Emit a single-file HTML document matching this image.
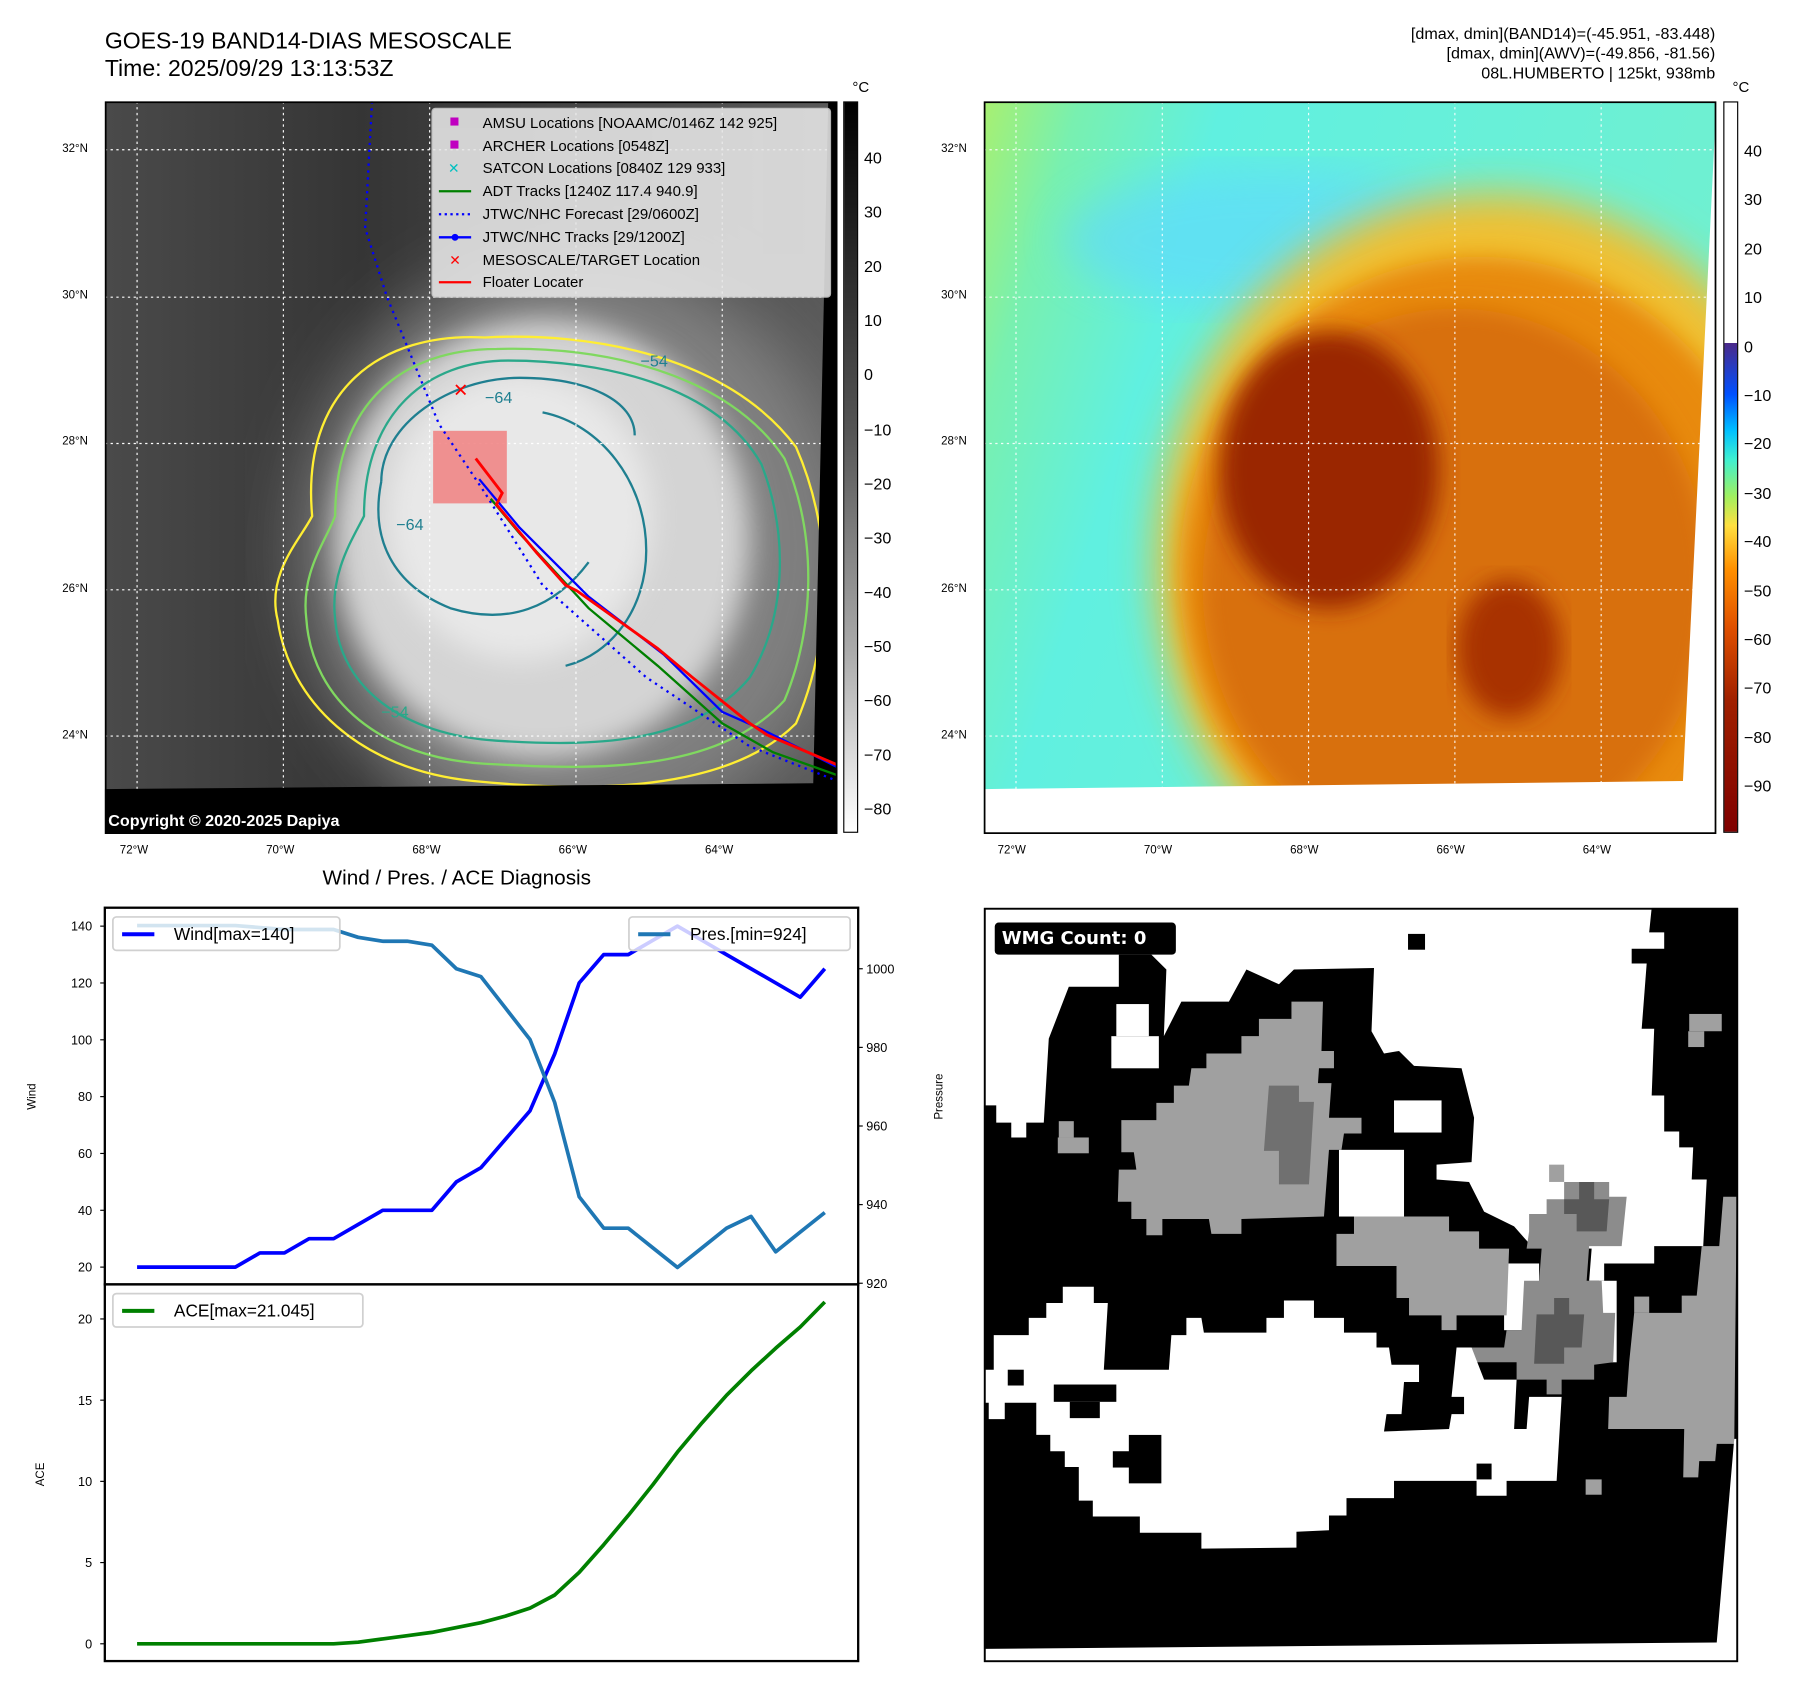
<!DOCTYPE html>
<html><head><meta charset="utf-8"><style>
html,body{margin:0;padding:0;background:#fff;overflow:hidden}
body{width:1797px;height:1690px}
#wrap{position:absolute;left:0;top:0;width:1560px;height:1467px;transform:scale(1.15192);transform-origin:0 0;font-family:"Liberation Sans","DejaVu Sans",sans-serif;color:#000}
.abs{position:absolute}
.t{position:absolute;white-space:nowrap}
</style></head><body>
<div id="wrap">
<div class="t" style="left:91px;top:24px;font-size:20px;line-height:24px">GOES-19 BAND14-DIAS MESOSCALE<br>Time: 2025/09/29 13:13:53Z</div>
<div class="t" style="right:71px;top:21px;font-size:14px;line-height:17px;text-align:right">[dmax, dmin](BAND14)=(-45.951, -83.448)<br>[dmax, dmin](AWV)=(-49.856, -81.56)<br>08L.HUMBERTO | 125kt, 938mb</div>

<!-- MAP 1 -->
<svg class="abs" style="left:91px;top:88px" width="636" height="636" viewBox="0 0 636 636">
<defs>
<filter id="b1"><feGaussianBlur stdDeviation="30"/></filter>
<filter id="b2"><feGaussianBlur stdDeviation="12"/></filter>
<linearGradient id="bgL" x1="0" x2="1"><stop offset="0" stop-color="#4a4a4a"/><stop offset="0.35" stop-color="#353535"/><stop offset="1" stop-color="#5a5a5a"/></linearGradient>
</defs>
<rect width="636" height="636" fill="url(#bgL)"/>
<ellipse cx="410" cy="390" rx="240" ry="255" fill="#808080" filter="url(#b1)"/>
<ellipse cx="380" cy="380" rx="180" ry="190" fill="#d4d4d4" filter="url(#b2)"/>
<ellipse cx="360" cy="360" rx="115" ry="125" fill="#e8e8e8" filter="url(#b2)"/>
<g fill="none" stroke-width="2">
<path d="M180,360 C170,250 240,200 330,205 C420,200 540,220 600,300 C635,380 630,470 600,540 C540,600 420,600 320,590 C220,580 160,520 150,450 C140,410 170,380 180,360Z" stroke="#ffee33"/>
<path d="M200,360 C200,260 260,215 340,215 C430,212 540,235 590,310 C620,380 615,460 590,520 C530,585 420,580 330,575 C240,570 180,520 175,450 C170,410 190,385 200,360Z" stroke="#80d860"/>
<path d="M225,360 C225,270 280,225 350,225 C430,225 530,245 570,315 C595,380 590,450 560,500 C510,560 420,560 340,555 C260,550 205,510 200,450 C195,410 215,380 225,360Z" stroke="#2aa88a"/>
<path d="M240,330 C240,280 300,240 360,240 C420,240 460,260 460,290 M380,270 C430,280 470,330 470,390 C470,440 440,480 400,490 M240,330 C230,380 250,420 300,440 C350,455 390,440 420,400" stroke="#1f7f90"/>
</g>
<text x="465" y="230" fill="#1f7f90" font-size="14">−54</text>
<text x="330" y="262" fill="#1f7f90" font-size="14">−64</text>
<text x="253" y="372" fill="#1f7f90" font-size="14">−64</text>
<text x="240" y="535" fill="#2aa88a" font-size="14">−54</text>
<g stroke="#fff" stroke-width="1" stroke-dasharray="2,3">
<line x1="28" y1="0" x2="28" y2="636"/><line x1="155" y1="0" x2="155" y2="636"/><line x1="282" y1="0" x2="282" y2="636"/><line x1="409" y1="0" x2="409" y2="636"/><line x1="536" y1="0" x2="536" y2="636"/>
<line x1="0" y1="42" x2="636" y2="42"/><line x1="0" y1="170" x2="636" y2="170"/><line x1="0" y1="297" x2="636" y2="297"/><line x1="0" y1="424" x2="636" y2="424"/><line x1="0" y1="551" x2="636" y2="551"/>
</g>
<polygon points="0,597 615,592 628,0 636,0 636,636 0,636" fill="#000"/>
<rect x="285" y="286" width="64" height="63" fill="#f08080" opacity="0.85"/>
<polyline points="232,0 226,110 245,170 290,280 330,340 380,420 470,500 560,560 636,590" fill="none" stroke="#0000ff" stroke-width="2" stroke-dasharray="2,4"/>
<polyline points="335,345 360,375 420,440 480,490 536,540 580,565 636,585" fill="none" stroke="#008000" stroke-width="2"/>
<polyline points="325,328 360,370 420,430 485,480 536,530 570,545 636,578" fill="none" stroke="#0000ff" stroke-width="2"/>
<polyline points="322,310 345,340 340,350 375,392 400,420 410,425 480,475 510,500 560,540 575,550 636,576" fill="none" stroke="#ff0000" stroke-width="2.5"/>
<text x="309" y="256" fill="#f00" font-size="16" font-weight="bold" text-anchor="middle">✕</text>
<g>
<rect x="284" y="6" width="346" height="164" rx="3" fill="#e8e8e8" opacity="0.88" stroke="#ccc"/>
<g font-size="13">
<rect x="300" y="14" width="7" height="7" fill="#c000c0"/><text x="328" y="23">AMSU Locations [NOAAMC/0146Z 142 925]</text>
<rect x="300" y="34" width="7" height="7" fill="#c000c0"/><text x="328" y="43">ARCHER Locations [0548Z]</text>
<text x="303" y="62" fill="#00c0c0" font-size="12" text-anchor="middle">✕</text><text x="328" y="62">SATCON Locations [0840Z 129 933]</text>
<line x1="290" y1="78" x2="318" y2="78" stroke="#008000" stroke-width="2"/><text x="328" y="82">ADT Tracks [1240Z 117.4 940.9]</text>
<line x1="290" y1="98" x2="318" y2="98" stroke="#00f" stroke-width="2" stroke-dasharray="2,3"/><text x="328" y="102">JTWC/NHC Forecast [29/0600Z]</text>
<line x1="290" y1="118" x2="318" y2="118" stroke="#00f" stroke-width="2"/><circle cx="304" cy="118" r="3" fill="#00f"/><text x="328" y="122">JTWC/NHC Tracks [29/1200Z]</text>
<text x="304" y="142" fill="#f00" font-size="12" font-weight="bold" text-anchor="middle">✕</text><text x="328" y="142">MESOSCALE/TARGET Location</text>
<line x1="290" y1="157" x2="318" y2="157" stroke="#f00" stroke-width="2"/><text x="328" y="161">Floater Locater</text>
</g></g>
<text x="3" y="629" fill="#fff" font-size="14" font-weight="bold">Copyright © 2020-2025 Dapiya</text>
<rect x="0.5" y="0.5" width="635" height="635" fill="none" stroke="#000" stroke-width="2"/>
</svg>
<div class="abs" style="left:732px;top:88px;width:13px;height:635px;background:linear-gradient(#000,#555 45%,#aaa 75%,#fff);border:1px solid #000;box-sizing:border-box"></div>
<div class="t" style="left:740px;top:68px;font-size:13px">°C</div>

<!-- MAP 2 -->
<svg class="abs" style="left:854px;top:88px" width="636" height="636" viewBox="0 0 636 636">
<defs>
<filter id="b3"><feGaussianBlur stdDeviation="18"/></filter>
<filter id="b4"><feGaussianBlur stdDeviation="10"/></filter>
<linearGradient id="bgR" x1="0" x2="1" y1="0" y2="0.3"><stop offset="0" stop-color="#a8f070"/><stop offset="0.12" stop-color="#78f0b0"/><stop offset="0.3" stop-color="#60f0e0"/><stop offset="1" stop-color="#70f0d0"/></linearGradient>
</defs>
<rect width="636" height="636" fill="url(#bgR)"/>
<ellipse cx="250" cy="120" rx="180" ry="60" fill="#60d8ff" opacity="0.6" filter="url(#b3)"/>
<ellipse cx="440" cy="400" rx="290" ry="320" fill="#f0c030" filter="url(#b3)"/>
<ellipse cx="430" cy="410" rx="260" ry="275" fill="#e88a10" filter="url(#b4)"/>
<ellipse cx="410" cy="420" rx="220" ry="240" fill="#d87010" filter="url(#b4)"/>
<ellipse cx="300" cy="320" rx="95" ry="120" fill="#9a2800" filter="url(#b4)"/>
<ellipse cx="456" cy="475" rx="45" ry="60" fill="#a83200" filter="url(#b4)"/>
<g stroke="#fff" stroke-width="1" stroke-dasharray="2,3" opacity="0.9">
<line x1="28" y1="0" x2="28" y2="636"/><line x1="155" y1="0" x2="155" y2="636"/><line x1="282" y1="0" x2="282" y2="636"/><line x1="409" y1="0" x2="409" y2="636"/><line x1="536" y1="0" x2="536" y2="636"/>
<line x1="0" y1="42" x2="636" y2="42"/><line x1="0" y1="170" x2="636" y2="170"/><line x1="0" y1="297" x2="636" y2="297"/><line x1="0" y1="424" x2="636" y2="424"/><line x1="0" y1="551" x2="636" y2="551"/>
</g>
<polygon points="0,597 607,590 636,0 636,636 0,636" fill="#fff"/>
<rect x="0.5" y="0.5" width="635" height="635" fill="none" stroke="#000" stroke-width="2"/>
</svg>
<div class="abs" style="left:1496px;top:88px;width:13px;height:635px;background:linear-gradient(#fff 0%,#fff 33%,#4b2a8a 33%,#0050ff 40%,#00c0ff 45%,#40f0d0 49%,#a0f060 54%,#ffe040 58%,#ff9000 64%,#e05000 72%,#a02000 82%,#800000 100%);border:1px solid #000;box-sizing:border-box"></div>
<div class="t" style="left:1504px;top:68px;font-size:13px">°C</div>

<!-- CHARTS -->
<div class="t" style="left:280px;top:752px;font-size:18px">Wind / Pres. / ACE Diagnosis</div>
<svg id="chart" class="abs" style="left:0;top:0" width="860" height="1467"></svg>

<!-- WMG -->
<svg class="abs" style="left:854px;top:788px" width="655" height="655" viewBox="0 5 1508 1527" preserveAspectRatio="none">
<rect x="0" y="5" width="1508" height="1527" fill="#000"/>
<polygon fill="#fff" points="0,5 1335,5 1330,55 1360,55 1360,88 1295,88 1295,118 1325,118 1315,250 1340,250 1335,385 1360,385 1360,458 1390,458 1390,490 1418,490 1415,555 1445,555 1438,690 1340,690 1340,725 1240,725 1240,760 1210,760 1215,695 1095,690 1060,650 1000,620 970,560 905,555 905,525 975,520 980,430 955,330 860,325 830,295 800,300 775,255 780,127 620,130 590,160 525,130 490,195 395,195 360,265 365,130 335,100 270,100 270,165 170,165 130,270 120,440 85,440 85,470 55,470 55,440 25,440 25,405 0,405"/>
<rect x="255" y="265" width="95" height="65" fill="#fff"/><rect x="265" y="200" width="65" height="65" fill="#fff"/>
<rect x="710" y="495" width="130" height="135" fill="#fff"/><rect x="820" y="395" width="95" height="65" fill="#fff"/>
<rect x="1040" y="725" width="70" height="135" fill="#fff"/><rect x="1230" y="760" width="35" height="165" fill="#fff"/>
<rect x="848" y="58" width="34" height="32" fill="#000"/>
<polygon fill="#a0a0a0" points="275,435 345,435 345,400 380,400 380,365 410,365 415,330 445,330 445,300 515,300 515,265 550,265 550,230 615,230 615,195 678,195 675,295 700,295 700,330 670,330 668,360 695,360 690,430 755,430 755,462 720,462 715,495 690,495 680,630 515,635 515,665 455,665 450,635 357,635 357,668 325,668 325,635 295,635 295,600 268,600 270,535 305,535 300,500 275,500"/>
<polygon fill="#707070" points="570,365 630,365 630,398 660,398 650,565 590,565 590,497 560,497"/>
<polygon fill="#a0a0a0" points="705,665 740,665 740,630 930,630 930,660 990,660 990,695 1050,695 1045,830 945,830 945,860 915,860 915,830 850,830 850,795 825,795 825,730 705,730"/>
<polygon fill="#8c8c8c" points="1090,625 1125,625 1125,595 1160,595 1160,560 1250,560 1250,590 1285,590 1275,690 1210,690 1205,760 1235,760 1238,825 1262,825 1258,925 1220,930 1220,960 1155,960 1155,990 1125,990 1125,960 1065,960 1065,925 970,925 975,895 1040,895 1045,860 1075,860 1080,760 1110,760 1115,695 1085,695 1090,660"/>
<polygon fill="#585858" points="1160,595 1190,595 1190,560 1220,560 1220,595 1250,595 1245,660 1185,660 1185,625 1160,625"/>
<polygon fill="#585858" points="1140,795 1170,795 1170,828 1200,828 1195,895 1160,895 1160,928 1100,928 1105,828 1140,828"/>
<polygon fill="#a0a0a0" points="1478,590 1505,590 1500,1090 1465,1090 1462,1125 1430,1125 1428,1158 1398,1158 1400,1060 1248,1060 1250,995 1285,995 1290,925 1300,825 1395,825 1395,790 1425,790 1435,690 1470,690"/>
<rect x="150" y="437" width="30" height="33" fill="#a0a0a0"/><rect x="148" y="470" width="62" height="32" fill="#a0a0a0"/>
<rect x="1410" y="220" width="65" height="35" fill="#a0a0a0"/><rect x="1408" y="255" width="32" height="32" fill="#a0a0a0"/>
<rect x="1130" y="525" width="30" height="35" fill="#a0a0a0"/><rect x="893" y="1098" width="32" height="32" fill="#a0a0a0"/>
<rect x="1203" y="1162" width="32" height="31" fill="#a0a0a0"/><rect x="1300" y="792" width="30" height="33" fill="#a0a0a0"/>
<polygon fill="#fff" points="0,940 20,940 20,870 90,870 90,835 125,835 125,805 158,805 158,772 220,772 220,805 248,805 240,940 370,940 375,870 405,870 405,835 435,835 440,865 565,865 565,835 600,835 600,800 660,800 660,835 720,835 720,865 785,865 785,895 810,895 815,930 870,930 870,965 840,965 835,1030 805,1030 800,1065 930,1060 935,1030 960,1030 960,995 935,995 945,895 975,895 1000,960 1065,960 1060,1060 1085,1060 1090,995 1155,995 1145,1165 1045,1165 1045,1195 985,1195 985,1165 820,1165 820,1200 725,1200 725,1235 690,1235 690,1265 625,1268 625,1300 435,1302 435,1270 312,1270 312,1237 218,1237 218,1205 190,1205 190,1137 162,1137 162,1105 133,1105 133,1072 105,1072 105,1007 42,1007 42,1040 10,1040 10,1007 0,1007"/>
<rect x="48" y="940" width="32" height="32" fill="#000"/><rect x="140" y="970" width="125" height="35" fill="#000"/><rect x="172" y="1005" width="60" height="33" fill="#000"/>
<rect x="258" y="1105" width="92" height="33" fill="#000"/><rect x="290" y="1072" width="65" height="98" fill="#000"/><rect x="985" y="1130" width="30" height="32" fill="#000"/>
<polygon fill="#fff" points="1500,1080 1508,1080 1508,1532 0,1532 0,1505 1465,1492"/>
<rect x="2" y="7" width="1504" height="1523" fill="none" stroke="#000" stroke-width="4"/>
<rect x="22" y="35" width="362" height="65" rx="8" fill="#000"/>
<text x="36" y="78" fill="#fff" font-size="36" font-weight="bold" font-family="DejaVu Sans, sans-serif">WMG Count: 0</text>
</svg>
</div>
<script>
const windValues=[20,20,20,20,20,25,25,30,30,35,40,40,40,50,55,65,75,95,120,130,130,135,140,135,130,125,120,115,125];
const presValues=[1011,1011,1011,1011,1011,1010.5,1010,1010,1010,1008,1007,1007,1006,1000,998,990,982,966,942,934,934,929,924,929,934,937,928,933,938];
const aceValues=[0,0,0,0,0,0,0,0,0,0.1,0.3,0.5,0.7,1.0,1.3,1.7,2.2,3.0,4.4,6.1,7.9,9.8,11.8,13.6,15.3,16.8,18.2,19.5,21.045];
const windTicks=[20,40,60,80,100,120,140];
const presTicks=[920,940,960,980,1000];
const aceTicks=[0,5,10,15,20];
const irTicks=[40,30,20,10,0,-10,-20,-30,-40,-50,-60,-70,-80];
const awvTicks=[40,30,20,10,0,-10,-20,-30,-40,-50,-60,-70,-80,-90];
const latLabels=["32°N","30°N","28°N","26°N","24°N"];
const lonLabels=["72°W","70°W","68°W","66°W","64°W"];

const NS='http://www.w3.org/2000/svg';
const svg=document.getElementById('chart');
const X=i=>119+i*(716-119)/(windValues.length-1);
const YW=v=>1100-(v-20)*(1100-804)/120;
const YP=v=>1114-(v-920)*(1114-841)/80;
const YA=v=>1427-v*(1427-1145)/20;
function mk(tag,at,p){const e=document.createElementNS(NS,tag);for(const k in at)e.setAttribute(k,at[k]);(p||svg).appendChild(e);return e;}
function txt(x,y,s,anchor,size,p){const e=mk('text',{x:x,y:y,'font-size':size||11,'text-anchor':anchor||'end','font-family':'Liberation Sans, sans-serif'},p);e.textContent=s;return e;}
let f1=mk('rect',{x:91,y:788,width:654,height:327,fill:'none',stroke:'#000','stroke-width':2});


let f2=mk('rect',{x:91,y:1115,width:654,height:327,fill:'none',stroke:'#000','stroke-width':2});


windTicks.forEach(v=>{mk('line',{x1:87,x2:91,y1:YW(v),y2:YW(v),stroke:'#000'});let t=txt(80,YW(v)+4,String(v));});
presTicks.forEach(v=>{mk('line',{x1:745,x2:749,y1:YP(v),y2:YP(v),stroke:'#000'});let t=txt(752,YP(v)+4,String(v),'start');});
aceTicks.forEach(v=>{mk('line',{x1:87,x2:91,y1:YA(v),y2:YA(v),stroke:'#000'});let t=txt(80,YA(v)+4,String(v));});
let yl1=txt(0,0,'Wind','middle',10);yl1.setAttribute('transform','translate(31,952) rotate(-90)');


let yl2=txt(0,0,'Pressure','middle',10);yl2.setAttribute('transform','translate(818,952) rotate(-90)');


let yl3=txt(0,0,'ACE','middle',10);yl3.setAttribute('transform','translate(38,1280) rotate(-90)');


function line(vals,Y,col,name){const pts=vals.map((v,i)=>X(i).toFixed(1)+','+Y(v).toFixed(1)).join(' ');const l=mk('polyline',{points:pts,fill:'none',stroke:col,'stroke-width':3.2,'stroke-linejoin':'round'});}
line(windValues,YW,'#0000ff','wind-line');
line(presValues,YP,'#1f77b4','pressure-line');
line(aceValues,YA,'#008000','ace-line');
function legend(x,y,w,col,label,name){const g=mk('g',{});mk('rect',{x:x,y:y,width:w,height:29,rx:3,fill:'#fff','fill-opacity':0.8,stroke:'#d0d0d0','stroke-width':1.5},g);mk('line',{x1:x+8,x2:x+36,y1:y+15,y2:y+15,stroke:col,'stroke-width':3.5},g);txt(x+53,y+20,label,'start',15,g);}
legend(98,796,197,'#0000ff','Wind[max=140]','wind-legend');
legend(546,796,192,'#1f77b4','Pres.[min=924]','pressure-legend');
legend(98,1123,217,'#008000','ACE[max=21.045]','ace-legend');
const wrap=document.getElementById('wrap');
function htxt(x,y,s,size,name){const d=document.createElement('div');d.className='t';d.style.left=x+'px';d.style.top=y+'px';d.style.fontSize=size+'px';d.textContent=s;wrap.appendChild(d);}
irTicks.forEach((v,i)=>htxt(750,129+i*47.1,(v<0?'−':'')+Math.abs(v),14,'ir-colorbar-tick'));
awvTicks.forEach((v,i)=>htxt(1514,123+i*42.4,(v<0?'−':'')+Math.abs(v),14,'awv-colorbar-tick'));
latLabels.forEach((s,i)=>{htxt(54,124+i*127.2,s,10,'lat-label');htxt(817,124+i*127.2,s,10,'lat-label');});
lonLabels.forEach((s,i)=>{htxt(104+i*127,733,s,10,'lon-label');htxt(866+i*127,733,s,10,'lon-label');});
</script>
</body></html>
